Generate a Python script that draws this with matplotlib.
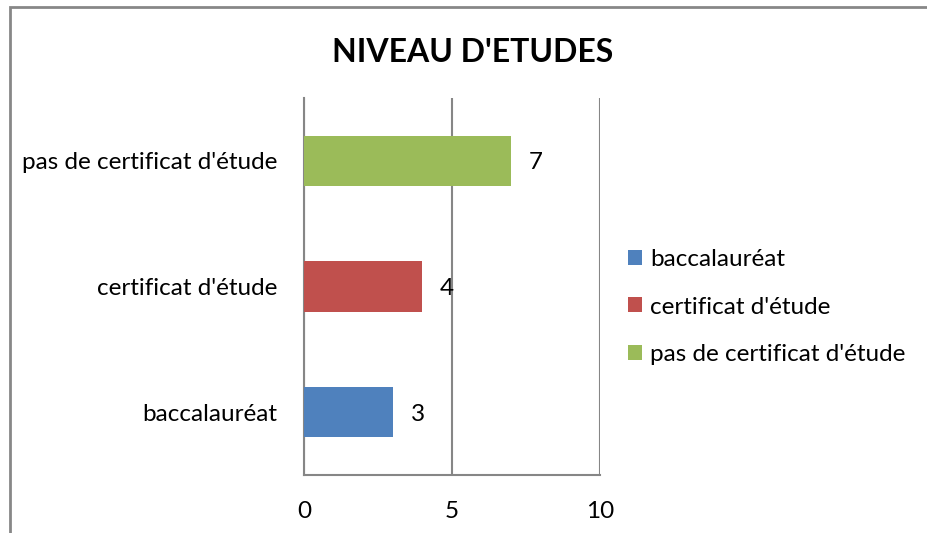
import matplotlib
matplotlib.use("Agg")
import matplotlib.pyplot as plt
from matplotlib.patches import Rectangle, Patch

plt.rcParams["font.family"] = ["Lato", "DejaVu Sans"]

# Data
categories = ["baccalauréat", "certificat d'étude", "pas de certificat d'étude"]
values = [3, 4, 7]
colors = ["#4F81BD", "#C0504D", "#9BBB59"]
x_ticks = [0, 5, 10]
title = "NIVEAU D'ETUDES"

W, H = 927, 533
fig = plt.figure(figsize=(W / 100, H / 100), dpi=100)

# outer chart border (Excel chart area)
fig.patches.append(Rectangle((9.5 / W, -0.1), 1.2, 1.1 - 7.5 / H,
                             transform=fig.transFigure, fill=False,
                             edgecolor="#878787", linewidth=2, zorder=0))

ax = fig.add_axes([304 / W, (H - 475) / H, (600 - 304) / W, (475 - 98) / H])

y = range(len(categories))
bars = ax.barh(y, values, height=0.4, color=colors, zorder=3)
for b, v in zip(bars, values):
    ax.text(b.get_width() + 0.6, b.get_y() + b.get_height() / 2, str(v),
            va="center_baseline", ha="left", fontsize=17.5, color="black")

ax.set_xlim(0, 10)
ax.set_ylim(-0.5, len(categories) - 0.5)
ax.set_xticks(x_ticks)
ax.set_xticklabels([str(t) for t in x_ticks])
ax.set_yticks(list(y))
ax.set_yticklabels(categories)
ax.tick_params(axis="both", length=0, labelsize=17.5, colors="black")
ax.tick_params(axis="x", pad=19)
ax.tick_params(axis="y", pad=19.5)

ax.xaxis.grid(True, color="#868686", linewidth=1.5, zorder=1)
ax.set_axisbelow(True)
for s in ["top", "right"]:
    ax.spines[s].set_visible(False)
ax.spines["left"].set_color("#868686")
ax.spines["left"].set_linewidth(1.5)
ax.spines["bottom"].set_color("#868686")
ax.spines["bottom"].set_linewidth(1.5)

fig.text(473 / W, 1 - 52 / H, title, ha="center", va="center",
         fontsize=23, fontweight="bold")

handles = [Patch(facecolor=c, edgecolor="none") for c in colors]
fig.legend(handles, categories, loc="center left",
           bbox_to_anchor=(606 / W, 1 - 307 / H), frameon=False,
           fontsize=17.5, handlelength=0.57, handleheight=0.57,
           handletextpad=0.33, labelspacing=1.1)

fig.savefig("out.png", dpi=100)
